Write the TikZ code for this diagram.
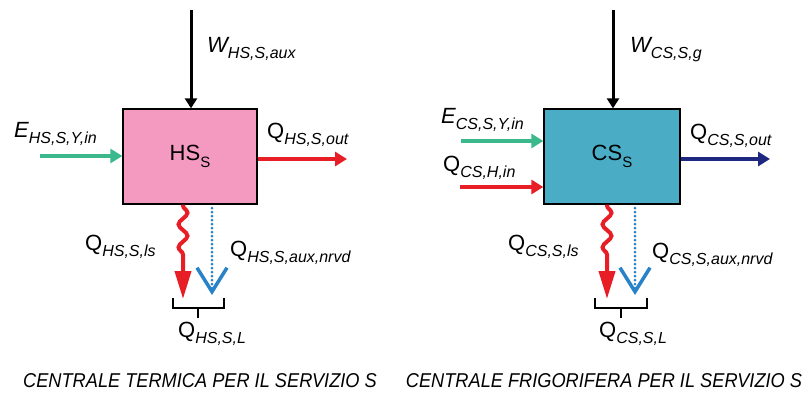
\documentclass[tikz,border=0pt]{standalone}
\usepackage{fontspec}
\setmainfont{Liberation Sans}
\usetikzlibrary{arrows.meta,decorations.pathmorphing}
\definecolor{boxpink}{RGB}{244,154,193}
\definecolor{boxteal}{RGB}{75,172,198}
\definecolor{flowgreen}{RGB}{60,185,140}
\definecolor{flowred}{RGB}{232,30,38}
\definecolor{flowblue}{RGB}{30,40,128}
\definecolor{lossblue}{RGB}{40,130,200}
\newcommand\qlab[2]{\fontsize{22}{22}\selectfont #1\raisebox{-0.28em}{\fontsize{16}{16}\selectfont\itshape #2}}
\begin{document}
\begin{tikzpicture}[x=1pt,y=-1pt,
  plant/.style={draw=black,line width=1.3pt,minimum width=134pt,minimum height=95pt,inner sep=0pt,font=\fontsize{22}{22}\selectfont},
  lab/.style={anchor=base west,inner sep=0pt},
  workarr/.style={draw=black,line width=3pt,-{Triangle[length=10pt,width=12pt]}},
  flowarr/.style={line width=4pt,-{Triangle[length=12pt,width=14pt]}},
  lossarr/.style={draw=flowred,line width=4pt,-{Triangle[length=28pt,width=16pt]},
     decorate,decoration={snake,amplitude=4.5pt,segment length=23pt,pre length=1pt,post length=36pt}},
  auxarr/.style={draw=lossblue,line width=3pt,line cap=round,dash pattern=on 0pt off 4pt,
     -{Straight Barb[length=24pt,width=30pt,line width=3.5pt,sep=0pt,line cap=butt]}},
  bracket/.style={draw=black,line width=1.2pt},
  caption/.style={anchor=base,inner sep=0pt,font=\fontsize{20}{20}\selectfont\itshape}]
\useasboundingbox (0,0) rectangle (806,392);

% ---------- HS ----------
\node[plant,fill=boxpink] (hs) at (190,156.5) {HS\raisebox{-0.3em}{\fontsize{15}{15}\selectfont S}};
\coordinate (hsW) at (191,10);
\draw[workarr] (hsW) -- (hsW |- hs.north);
\node[lab] (whs) at (207,52) {\qlab{\itshape W}{HS,S,aux}};
\coordinate (hsE) at (40,156);
\draw[flowarr,draw=flowgreen,color=flowgreen] (hsE) -- (hsE -| hs.west);
\node[lab] (ehs) at (14,137) {\qlab{\itshape E}{HS,S,Y,in}};
\coordinate (hsQo) at (347,159);
\draw[flowarr,draw=flowred,color=flowred] (hsQo -| hs.east) -- (hsQo);
\node[lab] (qhso) at (267,138) {\qlab{Q}{HS,S,out}};
\coordinate (hsLs) at (183,299);
\draw[lossarr] (hsLs |- hs.south) -- (hsLs);
\node[lab] (qhsls) at (85,250) {\qlab{Q}{HS,S,ls}};
\coordinate (hsAuxA) at (212,208);
\coordinate (hsAuxB) at (212,295);
\draw[auxarr] (hsAuxA) -- (hsAuxB);
\node[lab] (qhsaux) at (230,256) {\qlab{Q}{HS,S,aux,nrvd}};
\coordinate (hsBrL) at (173,298);
\coordinate (hsBrR) at (224,298);
\coordinate (hsBrM) at (198,318);
\draw[bracket] (hsBrL) -- ++(0,10) -- (hsBrR |- 0,308) -- (hsBrR);
\draw[bracket] (hsBrM |- 0,308) -- (hsBrM);
\node[lab] (qhsl) at (178,337) {\qlab{Q}{HS,S,L}};
\node[caption] (caphs) at (200,387) {\scalebox{0.91}[1]{CENTRALE TERMICA PER IL SERVIZIO S}};

% ---------- CS ----------
\node[plant,fill=boxteal,minimum width=136pt] (cs) at (612,156.5) {CS\raisebox{-0.3em}{\fontsize{15}{15}\selectfont S}};
\coordinate (csW) at (613,10);
\draw[workarr] (csW) -- (csW |- cs.north);
\node[lab] (wcs) at (630,52) {\qlab{\itshape W}{CS,S,g}};
\coordinate (csE) at (461,141);
\draw[flowarr,draw=flowgreen,color=flowgreen] (csE) -- (csE -| cs.west);
\node[lab] (ecs) at (441,123) {\qlab{\itshape E}{CS,S,Y,in}};
\coordinate (csH) at (460,187);
\draw[flowarr,draw=flowred,color=flowred] (csH) -- (csH -| cs.west);
\node[lab] (qcsh) at (443,171) {\qlab{Q}{CS,H,in}};
\coordinate (csQo) at (770,159);
\draw[flowarr,draw=flowblue,color=flowblue] (csQo -| cs.east) -- (csQo);
\node[lab] (qcso) at (690,139) {\qlab{Q}{CS,S,out}};
\coordinate (csLs) at (607,299);
\draw[lossarr] (csLs |- cs.south) -- (csLs);
\node[lab] (qcsls) at (508,250) {\qlab{Q}{CS,S,ls}};
\coordinate (csAuxA) at (635,208);
\coordinate (csAuxB) at (635,295);
\draw[auxarr] (csAuxA) -- (csAuxB);
\node[lab] (qcsaux) at (652,258) {\qlab{Q}{CS,S,aux,nrvd}};
\coordinate (csBrL) at (595,298);
\coordinate (csBrR) at (647,298);
\coordinate (csBrM) at (621,318);
\draw[bracket] (csBrL) -- ++(0,10) -- (csBrR |- 0,308) -- (csBrR);
\draw[bracket] (csBrM |- 0,308) -- (csBrM);
\node[lab] (qcsl) at (599,337) {\qlab{Q}{CS,S,L}};
\node[caption] (capcs) at (604,387) {\scalebox{0.91}[1]{CENTRALE FRIGORIFERA PER IL SERVIZIO S}};
\end{tikzpicture}
\end{document}
